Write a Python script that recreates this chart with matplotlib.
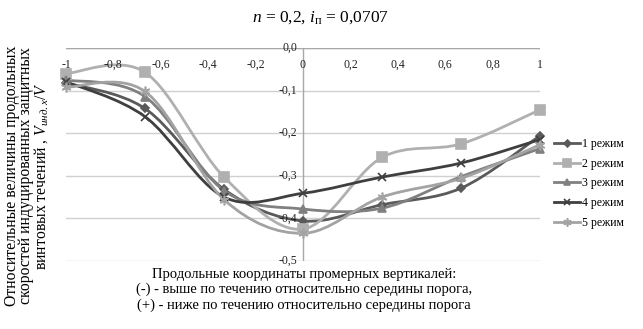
import numpy as np
import matplotlib
matplotlib.use("Agg")
import matplotlib.pyplot as plt
from matplotlib.path import Path
from matplotlib.patches import PathPatch
from matplotlib.lines import Line2D

plt.rcParams['font.family'] = ['Liberation Serif', 'DejaVu Serif']
plt.rcParams['mathtext.fontset'] = 'custom'
plt.rcParams['mathtext.rm'] = 'Liberation Serif'
plt.rcParams['mathtext.it'] = 'Liberation Serif:italic'
plt.rcParams['mathtext.bf'] = 'Liberation Serif:bold'

# Longitudinal coordinates of the measuring verticals
positions = [-1.0, -0.667, -0.333, 0.0, 0.333, 0.667, 1.0]

# Relative longitudinal velocities for each regime
mode_1 = [-0.082, -0.142, -0.332, -0.406, -0.368, -0.329, -0.206]
mode_2 = [-0.060, -0.057, -0.303, -0.425, -0.257, -0.225, -0.145]
mode_3 = [-0.075, -0.114, -0.335, -0.378, -0.376, -0.302, -0.236]
mode_4 = [-0.079, -0.161, -0.350, -0.341, -0.303, -0.270, -0.215]
mode_5 = [-0.092, -0.102, -0.356, -0.435, -0.350, -0.306, -0.227]

legend_labels = ["1 режим", "2 режим", "3 режим", "4 режим", "5 режим"]
x_ticks = [-1.0, -0.8, -0.6, -0.4, -0.2, 0.0, 0.2, 0.4, 0.6, 0.8, 1.0]
x_tick_labels = ["-1", "-0,8", "-0,6", "-0,4", "-0,2", "0", "0,2", "0,4", "0,6", "0,8", "1"]
y_ticks = [0.0, -0.1, -0.2, -0.3, -0.4, -0.5]
y_tick_labels = ["0,0", "-0,1", "-0,2", "-0,3", "-0,4", "-0,5"]

series = [mode_1, mode_2, mode_3, mode_4, mode_5]
colors = ["#5a5a5a", "#b0b0b0", "#808080", "#3f3f3f", "#a3a3a3"]
markers = ["D", "s", "^", "x", (6, 2, 0)]
msizes = [4.5, 6.5, 6, 6, 7]


def smooth_path(xs, ys):
    """Cubic Bezier path through the points (Catmull-Rom style tangents)."""
    pts = np.column_stack([xs, ys])
    n = len(pts)
    verts = [pts[0]]
    codes = [Path.MOVETO]
    for i in range(n - 1):
        p0 = pts[i - 1] if i > 0 else pts[i]
        p1 = pts[i]
        p2 = pts[i + 1]
        p3 = pts[i + 2] if i + 2 < n else pts[i + 1]
        c1 = p1 + (p2 - p0) / 6.0
        c2 = p2 - (p3 - p1) / 6.0
        verts += [c1, c2, p2]
        codes += [Path.CURVE4] * 3
    return Path(verts, codes)


W, H = 643, 329
fig = plt.figure(figsize=(W / 100, H / 100), dpi=100)
left_px, right_px, top_px, bottom_px = 66, 540, 48, 261
ax = fig.add_axes([left_px / W, 1 - bottom_px / H,
                   (right_px - left_px) / W, (bottom_px - top_px) / H])
ax.set_xlim(-1, 1)
ax.set_ylim(-0.5, 0)
for s in ax.spines.values():
    s.set_visible(False)
ax.set_xticks([])
ax.set_yticks([])

# Horizontal gridlines and the axes through the origin
for yv in y_ticks:
    ax.axhline(yv, color="#d0d0d0", lw=1.0, zorder=0)
ax.axhline(0, color="#a8a8a8", lw=1.0, zorder=0.5)
ax.axvline(0, color="#a8a8a8", lw=1.0, zorder=0.5)

# Tick labels placed on the axes through the origin
for xv, lab in zip(x_ticks, x_tick_labels):
    ax.annotate(lab, (xv, 0), xytext=(0, -8), textcoords="offset points",
                ha="center", va="top", fontsize=8.5, color="#222222")
for yv, lab in zip(y_ticks, y_tick_labels):
    ax.annotate(lab, (0, yv), xytext=(-4, 0), textcoords="offset points",
                ha="right", va="center", fontsize=8.5, color="#222222")

handles = []
for ys, c, m, ms, lab in zip(series, colors, markers, msizes, legend_labels):
    patch = PathPatch(smooth_path(positions, ys), fill=False, edgecolor=c,
                      lw=2.0, transform=ax.transData, zorder=2)
    ax.add_patch(patch)
    ax.plot(positions, ys, linestyle="none", marker=m, ms=ms, color=c,
            mec=c, mew=1.2, zorder=3, clip_on=False)
    handles.append(Line2D([], [], color=c, lw=2.0, marker=m, ms=ms - 1,
                          mec=c, mew=1.2, label=lab))

fig.legend(handles=handles, loc="upper left",
           bbox_to_anchor=(548 / W, 1 - 132 / H), frameon=False,
           fontsize=8.5, handlelength=2.2, handletextpad=0.15,
           labelspacing=0.66, borderpad=0)

fig.text(321 / W, 1 - 18 / H, r"$n$ = 0,2, $i_{\mathrm{п}}$ = 0,0707",
         ha="center", va="center", fontsize=12.5)

fig.text(27 / W, 1 - 176 / H,
         "Относительные величины продольных\n"
         "скоростей индуцированных защитных\n"
         r"винтовых течений , $V_{инд.x}/V$",
         rotation=90, ha="center", va="center", fontsize=11.3,
         linespacing=0.88)

fig.text(304 / W, 1 - 290 / H,
         "Продольные координаты промерных вертикалей:\n"
         "(-) - выше по течению относительно середины порога,\n"
         "(+) - ниже по течению относительно середины порога",
         ha="center", va="center", fontsize=10.5, linespacing=1.2)

fig.savefig("out.png", dpi=100)
